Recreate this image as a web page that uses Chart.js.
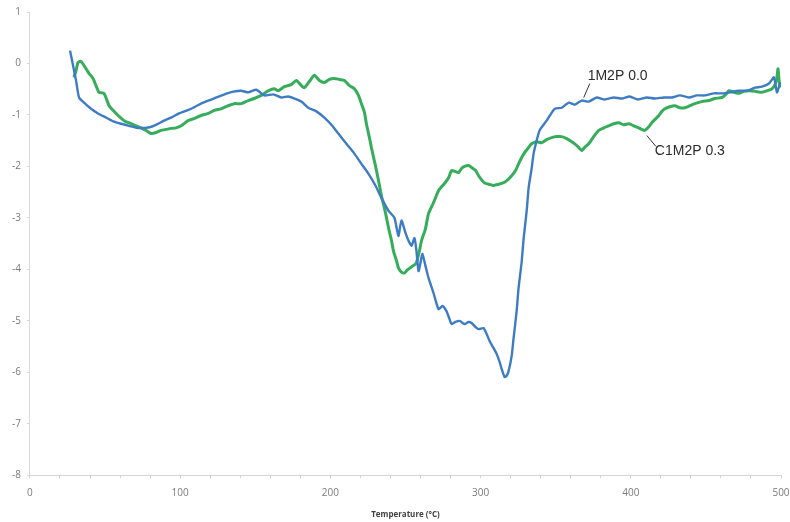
<!DOCTYPE html>
<html>
<head>
<meta charset="utf-8">
<script src="https://cdn.jsdelivr.net/npm/chart.js@4"></script>
<style>
  html,body{margin:0;padding:0;background:#fff;}
  #wrap{width:790px;height:522px;}
</style>
</head>
<body>
<div id="wrap"><canvas id="ch" width="790" height="522"></canvas></div>
<script>
// ── data (temperature °C, signal) ──
const blueX=[26.7,28.7,30.7,32.7,36,40.7,45.3,50.7,56,60.7,66,71.3,76.7,80.7,85.3,89.3,94,99.3,104.7,110,115.3,120.7,126,131.3,136.7,140.7,145.3,150.7,156,162,167.3,172,176,180.7,185.3,190.7,196,200.7,205.3,210.7,216,220.7,225.3,230,234,238.7,242.7,245.3,247.3,250,252,254,256,257.3,258.7,260,261.3,263.3,265.3,268.7,272,274.7,277.3,279.3,280.7,283.3,286,289.3,292,294,296.7,298.7,302,304,306,308.7,310.7,312.7,314,316,317.3,318.7,320.7,322,324,325.3,327.3,328.7,330.7,332,334,335.3,337.3,339.3,344,349.3,354,358.7,362.7,367.3,372,377.3,382.7,388.7,394,399.3,404.7,410.7,416,422,427.3,432.7,438.7,444,449.3,455.3,460.7,466,472,477.3,482.7,487.3,492,495.3,497.3,499.3,500];
const blueY=[0.25,-0.04,-0.33,-0.66,-0.76,-0.88,-0.97,-1.05,-1.13,-1.17,-1.21,-1.25,-1.25,-1.23,-1.17,-1.11,-1.05,-0.97,-0.91,-0.84,-0.76,-0.70,-0.64,-0.58,-0.54,-0.53,-0.56,-0.51,-0.62,-0.60,-0.66,-0.64,-0.68,-0.74,-0.86,-0.93,-1.05,-1.19,-1.36,-1.56,-1.75,-1.95,-2.14,-2.37,-2.61,-2.86,-3.00,-3.35,-3.05,-3.29,-3.44,-3.54,-3.39,-3.64,-4.03,-3.87,-3.70,-3.93,-4.16,-4.46,-4.77,-4.71,-4.81,-4.96,-5.06,-5.02,-5.00,-5.06,-5.02,-5.04,-5.12,-5.16,-5.14,-5.25,-5.39,-5.53,-5.64,-5.80,-5.93,-6.09,-6.07,-5.97,-5.68,-5.33,-4.81,-4.36,-3.87,-3.39,-2.86,-2.41,-2.04,-1.75,-1.50,-1.30,-1.11,-0.88,-0.86,-0.76,-0.80,-0.72,-0.74,-0.66,-0.70,-0.66,-0.68,-0.64,-0.70,-0.66,-0.68,-0.66,-0.66,-0.62,-0.66,-0.62,-0.62,-0.58,-0.58,-0.56,-0.53,-0.53,-0.47,-0.45,-0.39,-0.27,-0.56,-0.39,-0.39];

const greenX=[29.3,30.7,32,34,37.3,39.3,42,44,46,49.3,52.7,55.3,58.7,62.7,67.3,70.7,74,77.3,80.7,84,87.3,90.7,94,97.3,100.7,105.3,109.3,114,118.7,122.7,127.3,132,136,140.7,145.3,149.3,154,158.7,162.7,165.3,169.3,174,177.3,180.7,182.7,186,189.3,192.7,196,199.3,202.7,206,209.3,212.7,216,218.7,220.7,222.7,224,226,227.3,229.3,230.7,232.7,234,236.7,238.7,240.7,242,244,245.3,247.3,249.3,251.3,254,256,257.3,259.3,260.7,263.3,265.3,268.7,272,276,278.7,280.7,283.3,285.3,287.3,289.3,292,294,296.7,298.7,300.7,302.7,306,308.7,311.3,314,317.3,320.7,323.3,325.3,327.3,329.3,332,334,337.3,340.7,344,347.3,350.7,354,357.3,360.7,362.7,365.3,367.3,369.3,372,375.3,378.7,382,385.3,388.7,392,395.3,398.7,402,405.3,407.3,409.3,412,414,416.7,418.7,420.7,422.7,426,429.3,432.7,436,439.3,442.7,447.3,452,456,460.7,463.3,465.3,468.7,472,475.3,478.7,482.7,487.3,490.7,494,496,497.3,498,498.7,499.3];
const greenY=[-0.27,-0.14,0.02,0.04,-0.10,-0.19,-0.29,-0.43,-0.56,-0.58,-0.82,-0.91,-1.01,-1.11,-1.17,-1.21,-1.25,-1.30,-1.36,-1.34,-1.30,-1.28,-1.26,-1.25,-1.21,-1.11,-1.07,-1.01,-0.97,-0.91,-0.88,-0.82,-0.78,-0.78,-0.72,-0.68,-0.62,-0.53,-0.49,-0.53,-0.45,-0.41,-0.33,-0.43,-0.47,-0.35,-0.23,-0.33,-0.37,-0.31,-0.29,-0.31,-0.33,-0.43,-0.49,-0.62,-0.78,-0.95,-1.17,-1.44,-1.63,-1.89,-2.08,-2.37,-2.57,-2.90,-3.19,-3.44,-3.64,-3.83,-3.97,-4.05,-4.07,-4.01,-3.95,-3.91,-3.87,-3.64,-3.44,-3.21,-2.92,-2.70,-2.47,-2.33,-2.22,-2.08,-2.10,-2.12,-2.04,-2.00,-1.98,-2.02,-2.08,-2.18,-2.26,-2.32,-2.35,-2.37,-2.35,-2.33,-2.28,-2.18,-2.08,-1.95,-1.83,-1.73,-1.63,-1.56,-1.52,-1.54,-1.48,-1.44,-1.42,-1.42,-1.46,-1.52,-1.56,-1.63,-1.69,-1.63,-1.56,-1.42,-1.30,-1.25,-1.21,-1.17,-1.15,-1.19,-1.17,-1.21,-1.25,-1.28,-1.30,-1.23,-1.15,-1.07,-1.01,-0.93,-0.88,-0.84,-0.82,-0.86,-0.86,-0.82,-0.78,-0.74,-0.72,-0.68,-0.66,-0.60,-0.53,-0.56,-0.58,-0.54,-0.53,-0.54,-0.56,-0.53,-0.49,-0.41,-0.27,-0.10,-0.33,-0.47];

const seriesNames=['1M2P 0.0','C1M2P 0.3'];
const seriesColors=['#3d7cc5','#35ad5a'];
// label anchors (data units): text position, then leader line start/end
const labelPos=[[371.3,-0.25],[416,-1.71]];
const leaderFrom=[[372.7,-0.39],[410.7,-1.40]];
const leaderTo=[[368.7,-0.66],[416.7,-1.61]];

const pts=(xs,ys)=>xs.map((x,i)=>({x,y:ys[i]}));

const lineLabels={
    id:'lineLabels',
    afterDatasetsDraw(chart){
        const {ctx,scales:{x,y}}=chart;
        ctx.save();
        ctx.strokeStyle='#333';
        ctx.lineWidth=1;
        ctx.fillStyle='#2b2b2b';
        ctx.font='14px "Liberation Sans", Arial, sans-serif';
        ctx.textBaseline='middle';
        ctx.textAlign='left';
        seriesNames.forEach((name,i)=>{
            ctx.beginPath();
            ctx.moveTo(x.getPixelForValue(leaderFrom[i][0]),y.getPixelForValue(leaderFrom[i][1]));
            ctx.lineTo(x.getPixelForValue(leaderTo[i][0]),y.getPixelForValue(leaderTo[i][1]));
            ctx.stroke();
            ctx.fillText(name,x.getPixelForValue(labelPos[i][0]),y.getPixelForValue(labelPos[i][1]));
        });
        ctx.restore();
    }
};

new Chart(document.getElementById('ch').getContext('2d'),{
    type:'scatter',
    data:{datasets:[
        {label:seriesNames[0],data:pts(blueX,blueY),showLine:true,borderColor:seriesColors[0],borderWidth:2.4,pointRadius:0,tension:0.2},
        {label:seriesNames[1],data:pts(greenX,greenY),showLine:true,borderColor:seriesColors[1],borderWidth:3,pointRadius:0,tension:0.2}
    ]},
    options:{
        responsive:false,
        animation:false,
        layout:{padding:{left:6,right:2,top:7,bottom:2}},
        plugins:{legend:{display:false},tooltip:{enabled:false}},
        scales:{
            x:{
                type:'linear',min:0,max:500,
                afterFit:s=>{s.paddingRight=9;},
                border:{color:'#d4d4d4'},
                grid:{drawOnChartArea:false,color:'#d4d4d4',tickLength:3},
                ticks:{stepSize:20,autoSkip:false,maxRotation:0,color:'#7a7a7a',padding:9,
                    font:{family:'"Open Sans", sans-serif',size:10},
                    callback:v=>v%100===0?v:''},
                title:{display:true,text:'Temperature (°C)',color:'#404040',
                    font:{family:'"Open Sans", sans-serif',size:8,weight:'bold'},padding:{top:2,bottom:0}}
            },
            y:{
                min:-8,max:1,
                border:{color:'#d9d9d9'},
                grid:{drawOnChartArea:false,color:'#d9d9d9',tickLength:3},
                ticks:{stepSize:1,color:'#7a7a7a',padding:6,
                    font:{family:'"Open Sans", sans-serif',size:10}}
            }
        }
    },
    plugins:[lineLabels]
});
</script>
</body>
</html>
